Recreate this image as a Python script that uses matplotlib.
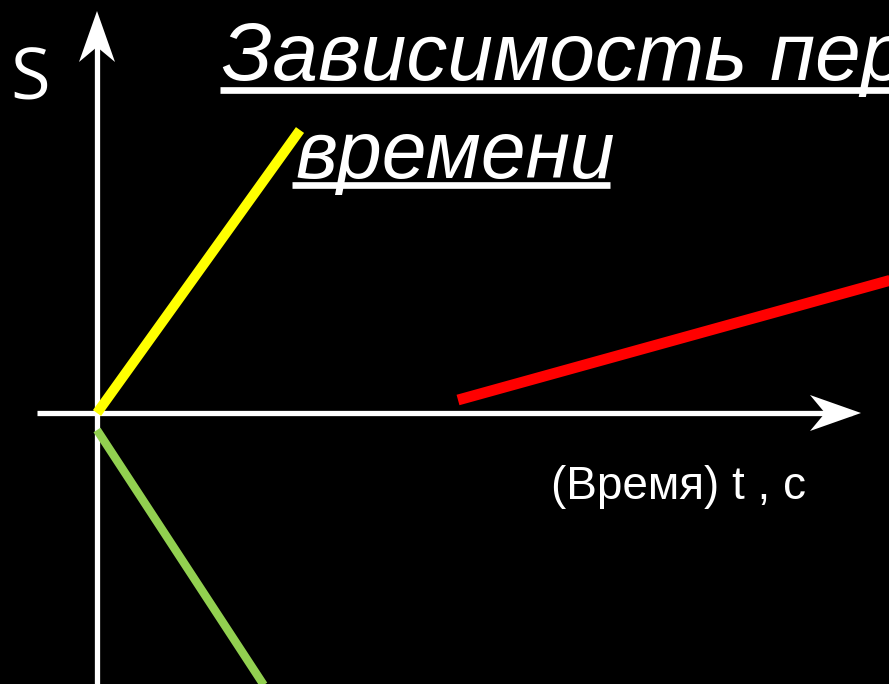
import matplotlib
matplotlib.use("Agg")
import matplotlib.pyplot as plt
from matplotlib.patches import Polygon

# Data (1 unit = 100 px on the slide, origin at axes crossing)
yellow_t = [0.0, 2.03]
yellow_s = [0.0, 2.83]
green_t = [0.0, 1.72]
green_s = [-0.17, -2.80]
red_t = [3.61, 8.05]
red_s = [0.13, 1.36]

# axis extents
t_axis = [-0.60, 7.55]
s_axis = [-2.75, 3.90]

W, H = 889, 684
fig = plt.figure(figsize=(W / 100, H / 100), dpi=100, facecolor="black")
ax = fig.add_axes([0, 0, 1, 1])
ax.set_facecolor("black")
ax.set_xlim(-0.97, 7.92)
ax.set_ylim(-2.71, 4.13)
ax.axis("off")

# coordinate axes
ax.plot(t_axis, [0, 0], color="white", lw=3.8, solid_capstyle="butt")
ax.plot([0, 0], s_axis, color="white", lw=3.8, solid_capstyle="butt")
# arrow heads (notched)
ax.add_patch(Polygon([(7.64, 0), (7.13, 0.18), (7.28, 0), (7.13, -0.18)],
                     closed=True, color="white", lw=0))
ax.add_patch(Polygon([(0, 4.02), (-0.18, 3.51), (0, 3.66), (0.18, 3.51)],
                     closed=True, color="white", lw=0))

# motion lines
ax.plot(yellow_t, yellow_s, color="#ffff00", lw=7.2, solid_capstyle="butt")
ax.plot(green_t, green_s, color="#92d050", lw=6.0, solid_capstyle="butt")
ax.plot(red_t, red_s, color="#ff0000", lw=7.8, solid_capstyle="butt")

# texts
def px(x, y):
    return x / W, 1 - y / H

fig.text(*px(222, 80), "Зависимость перемещения от", color="white",
         fontsize=59, style="italic", family="Liberation Sans", va="baseline")
fig.text(*px(295, 178), "времени", color="white",
         fontsize=58, style="italic", family="Liberation Sans", va="baseline")
# underlines
ax.plot([1.23, 8.0], [3.23, 3.23], color="white", lw=4.8, solid_capstyle="butt")
ax.plot([1.95, 5.13], [2.28, 2.28], color="white", lw=4.8, solid_capstyle="butt")

fig.text(*px(10, 100), "S", color="white", fontsize=52,
         family="Open Sans", va="baseline")
fig.text(*px(551, 499), "(Время) t , с", color="white", fontsize=33,
         family="Liberation Sans", va="baseline")

fig.savefig("out.png", dpi=100, facecolor="black")
